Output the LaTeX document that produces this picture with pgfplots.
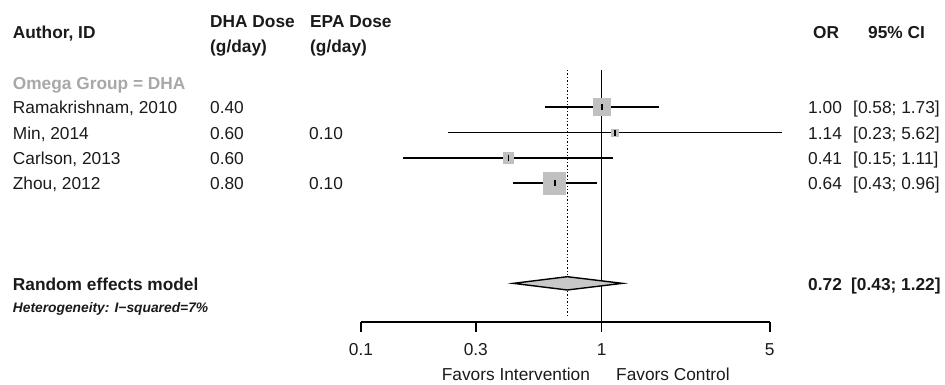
\documentclass[border=0pt]{standalone}
\usepackage{fontspec}
\setmainfont{Liberation Sans}
\usepackage{pgfplots}
\pgfplotsset{compat=1.18}
\definecolor{sqgray}{HTML}{C0C0C0}
\definecolor{dgray}{HTML}{C8C8C8}
\definecolor{grp}{HTML}{A8A8A8}
\definecolor{txt}{HTML}{1A1A1A}
\begin{document}
\fontsize{17.3}{20}\selectfont
\begin{tikzpicture}
\path[use as bounding box] (0,0) rectangle (945pt,385pt);
\begin{axis}[
  at={(361pt,63.15pt)}, anchor=south west,
  scale only axis, width=408.8pt, height=251.8pt,
  xmode=log, xmin=0.1, xmax=5,
  ymin=-0.47, ymax=9.47, y dir=reverse,
  clip=false,
  axis x line=bottom, axis y line=none,
  x axis line style={-, line width=1.4pt},
  xtick={0.1,0.3,1,5}, xticklabels={0.1,0.3,1,5},
  xminorticks=false,
  tick align=outside, major tick length=10pt,
  every tick/.style={black, line width=1.4pt},
  xticklabel style={font=\fontsize{17.3}{20}\selectfont, text=txt, yshift=-6pt},
  /pgf/number format/assume math mode=true,
]
% reference lines
\addplot[black, line width=1.7pt] coordinates {(1,-0.47) (1,9.47)};
\addplot[black, dotted, line width=1.4pt] coordinates {(0.72,-0.47) (0.72,9.28)};
% study squares (weights)
\addplot[only marks, color=sqgray, mark=square*, mark size=8.5pt, mark options={draw=sqgray, fill=sqgray, line width=0pt}] coordinates {(1.00,1)};
\addplot[only marks, color=sqgray, mark=square*, mark size=3.4pt, mark options={draw=sqgray, fill=sqgray, line width=0pt}] coordinates {(1.14,2)};
\addplot[only marks, color=sqgray, mark=square*, mark size=5.4pt, mark options={draw=sqgray, fill=sqgray, line width=0pt}] coordinates {(0.41,3)};
\addplot[only marks, color=sqgray, mark=square*, mark size=11pt, mark options={draw=sqgray, fill=sqgray, line width=0pt}] coordinates {(0.64,4)};
% confidence intervals
\addplot[black, line width=1.7pt] coordinates {(0.58,1) (1.73,1)};
\addplot[black, line width=1.7pt] coordinates {(0.23,2) (5.62,2)};
\addplot[black, line width=1.7pt] coordinates {(0.15,3) (1.11,3)};
\addplot[black, line width=1.7pt] coordinates {(0.43,4) (0.96,4)};
% point estimates
\addplot[only marks, black, mark=|, mark size=3pt, mark options={black, line width=1.8pt}] coordinates {(1.00,1) (1.14,2) (0.41,3) (0.64,4)};
% pooled diamond
\addplot[draw=black, fill=dgray, line width=1.4pt] coordinates {(0.43,7.95) (0.72,7.6875) (1.22,7.95) (0.72,8.2125)} -- cycle;
\end{axis}
\begin{scope}[x=1pt, y=-1pt, shift={(0pt,385pt)}]
\tikzset{every node/.style={anchor=base west, inner sep=0pt, text=txt}}
\node[font=\bfseries] at (12.7,38.3) {Author, ID};
\node[font=\bfseries] at (210,27.7) {DHA Dose};
\node[font=\bfseries] at (210,52.2) {(g/day)};
\node[font=\bfseries] at (310,27.7) {EPA Dose};
\node[font=\bfseries] at (310,52.2) {(g/day)};
\node[font=\bfseries] at (813,38.3) {OR};
\node[font=\bfseries] at (868,38.3) {95\% CI};
\node[font=\bfseries, text=grp] at (12.7,89.7) {Omega Group = DHA};
\node at (12.7,114) {Ramakrishnam, 2010};
\node at (12.7,139.3) {Min, 2014};
\node at (12.7,164.5) {Carlson, 2013};
\node at (12.7,190) {Zhou, 2012};
\node at (210,114) {0.40};
\node at (210,139.3) {0.60};
\node at (210,164.5) {0.60};
\node at (210,190) {0.80};
\node at (309,139.3) {0.10};
\node at (309,190) {0.10};
\node at (808,114) {1.00};
\node at (808,139.3) {1.14};
\node at (808,164.5) {0.41};
\node at (808,190) {0.64};
\node at (853,114) {[0.58; 1.73]};
\node at (853,139.3) {[0.23; 5.62]};
\node at (853,164.5) {[0.15; 1.11]};
\node at (853,190) {[0.43; 0.96]};
\node[font=\bfseries] at (12.7,291) {Random effects model};
\node[font=\bfseries\itshape\fontsize{13.8}{15}\selectfont] at (12.7,312.7) {Heterogeneity: I−squared=7\%};
\node[font=\bfseries] at (808,291) {0.72};
\node[font=\bfseries] at (851,291) {[0.43; 1.22]};
\node at (441.7,381) {Favors Intervention};
\node at (616,381) {Favors Control};
\end{scope}
\end{tikzpicture}
\end{document}
